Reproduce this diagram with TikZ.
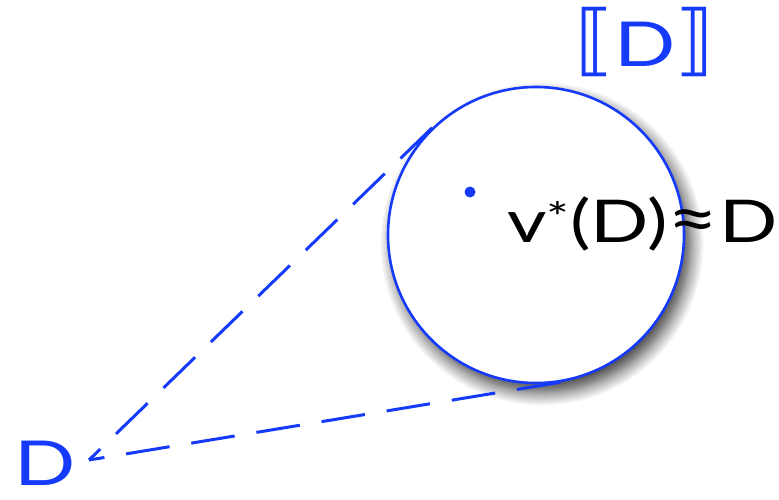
\documentclass[tikz,border=0pt]{standalone}
\usepackage{fontspec}
\setmainfont{Lato}[FakeStretch=1.3]
\newfontfamily\bracketfont{DejaVu Sans}
\usetikzlibrary{calc,shadows.blur}
\definecolor{denblue}{RGB}{22,58,250}
\begin{document}
\begin{tikzpicture}[x=1pt,y=1pt,
  disc/.style={circle,draw=denblue,line width=2.6pt,fill=white,inner sep=0pt,
    minimum size=296pt,
    blur shadow={shadow xshift=6pt,shadow yshift=-9pt,shadow blur radius=14pt,
      shadow blur steps=12,shadow opacity=80}},
  cone/.style={denblue,line width=3pt,dash pattern=on 44pt off 22pt},
  lbl/.style={inner sep=0pt,font=\fontsize{62}{70}\selectfont}]
  \useasboundingbox (0,0) rectangle (779,499);

  % The denotation: a disc with a shadow.
  \node[disc] (den) at (536,264) {};
  \node[lbl,text=denblue,anchor=base] (denlbl) at (645,432)
    {{\bracketfont\fontsize{78}{80}\selectfont\char"27E6}D{\bracketfont\fontsize{78}{80}\selectfont\char"27E7}};

  % A point inside the disc and its label.
  \fill[denblue] (470,307) circle[radius=5.5pt];
  \node[inner sep=0pt,anchor=base west,font=\fontsize{59}{66}\selectfont] (approx) at (507,257)
    {v\textsuperscript{*}(D){\fontsize{68}{66}\selectfont≈}D};

  % The source D and the two tangents onto the disc.
  \node[lbl,text=denblue,anchor=base] (src) at (45,14) {D};
  \coordinate (apex) at (89,39);
  \coordinate (tup) at (tangent cs:node=den,point={(apex)},solution=1);
  \coordinate (tlow) at (tangent cs:node=den,point={(apex)},solution=2);
  \draw[cone] (tup) -- (apex);
  \draw[cone] (tlow) -- (apex);
\end{tikzpicture}
\end{document}
